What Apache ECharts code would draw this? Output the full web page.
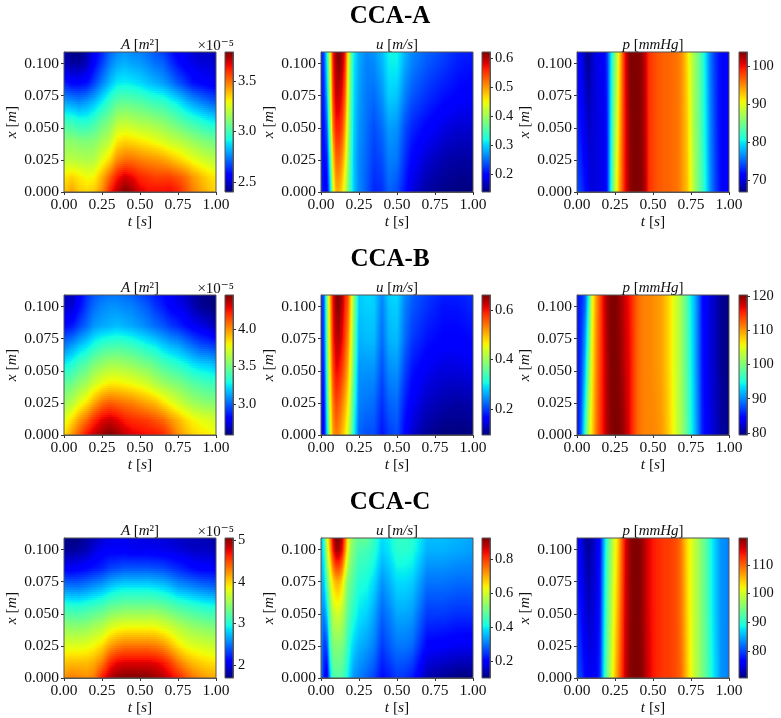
<!DOCTYPE html>
<html>
<head>
<meta charset="utf-8">
<style>html,body{margin:0;padding:0;background:#fff}#chart{width:781px;height:718px}</style>
<script src="https://cdn.jsdelivr.net/npm/echarts@6/dist/echarts.min.js"></script>
</head>
<body>
<div id="chart"></div>
<script>
// Sample positions along time t [s] and along the vessel x [m].
const tArea = [0,.05,.1,.15,.2,.25,.3,.35,.4,.45,.5,.55,.6,.65,.7,.75,.8,.85,.9,.95,1];
const xArea = [0,.012,.025,.04,.055,.07,.085,.1,.109];
const tVel = [0,.02,.04,.06,.08,.1,.12,.14,.16,.18,.2,.22,.25,.3,.35,.4,.45,.5,.55,.6,.7,.8,.9,1];
const xVel = [0,.025,.05,.075,.1,.109];
const tPres = [0,.025,.05,.075,.1,.125,.15,.175,.2,.225,.25,.275,.3,.325,.35,.375,.4,.425,.45,.475,.5,.525,.55,.575,.6,.625,.65,.675,.7,.725,.75,.775,.8,.825,.85,.875,.9,.925,.95,.975,1];
const xPres = [0,.055,.109];

// Cross-section area A, in units of 1e-5 m^2; one row per entry of xArea.
const areaA = [
[3.37,3.43,3.37,3.35,3.37,3.46,3.62,3.72,3.79,3.75,3.68,3.65,3.65,3.65,3.66,3.62,3.55,3.48,3.43,3.39,3.35],
[3.32,3.35,3.32,3.29,3.30,3.40,3.52,3.63,3.69,3.66,3.61,3.59,3.57,3.57,3.57,3.54,3.50,3.44,3.39,3.35,3.32],
[3.20,3.20,3.19,3.18,3.19,3.27,3.35,3.46,3.50,3.50,3.48,3.46,3.45,3.43,3.40,3.36,3.32,3.28,3.25,3.22,3.20],
[3.12,3.12,3.10,3.10,3.11,3.16,3.21,3.32,3.35,3.34,3.32,3.30,3.28,3.25,3.22,3.20,3.17,3.14,3.11,3.09,3.07],
[2.98,2.97,2.94,2.94,2.98,3.05,3.10,3.18,3.20,3.18,3.16,3.15,3.13,3.11,3.08,3.04,3.00,2.97,2.94,2.91,2.89],
[2.80,2.78,2.76,2.79,2.83,2.90,2.98,3.04,3.05,3.04,3.03,3.00,2.98,2.97,2.93,2.89,2.83,2.79,2.75,2.72,2.69],
[2.61,2.57,2.57,2.59,2.66,2.75,2.83,2.89,2.90,2.89,2.87,2.84,2.82,2.79,2.75,2.69,2.64,2.59,2.57,2.55,2.54],
[2.48,2.44,2.44,2.48,2.57,2.66,2.75,2.80,2.82,2.80,2.79,2.76,2.73,2.71,2.65,2.59,2.55,2.53,2.51,2.51,2.50],
[2.46,2.41,2.40,2.46,2.54,2.62,2.71,2.76,2.78,2.76,2.75,2.72,2.69,2.66,2.61,2.55,2.53,2.50,2.48,2.48,2.47]];
const areaB = [
[3.84,3.99,4.12,4.26,4.34,4.41,4.45,4.41,4.34,4.30,4.28,4.26,4.25,4.21,4.13,4.00,3.93,3.87,3.84,3.82,3.78],
[3.74,3.85,3.97,4.08,4.20,4.29,4.33,4.29,4.23,4.20,4.18,4.16,4.12,4.08,4.00,3.93,3.85,3.80,3.76,3.74,3.71],
[3.59,3.65,3.75,3.84,3.95,4.06,4.10,4.08,4.05,4.03,3.99,3.95,3.92,3.84,3.78,3.71,3.65,3.60,3.57,3.55,3.54],
[3.45,3.49,3.56,3.62,3.71,3.78,3.82,3.82,3.80,3.78,3.75,3.71,3.65,3.60,3.56,3.53,3.48,3.44,3.41,3.39,3.37],
[3.26,3.31,3.38,3.44,3.52,3.57,3.61,3.61,3.59,3.57,3.53,3.50,3.46,3.40,3.36,3.32,3.28,3.23,3.20,3.19,3.15],
[3.04,3.10,3.17,3.23,3.30,3.36,3.38,3.39,3.38,3.36,3.32,3.28,3.25,3.19,3.15,3.12,3.06,3.01,2.96,2.94,2.91],
[2.83,2.86,2.94,3.02,3.10,3.13,3.15,3.17,3.15,3.13,3.10,3.06,3.02,2.98,2.93,2.89,2.84,2.79,2.76,2.72,2.68],
[2.74,2.72,2.83,2.94,3.02,3.07,3.09,3.09,3.07,3.06,3.02,2.98,2.92,2.87,2.81,2.78,2.74,2.68,2.63,2.61,2.59],
[2.70,2.68,2.79,2.91,2.98,3.02,3.04,3.04,3.02,3.00,2.96,2.92,2.87,2.83,2.78,2.74,2.70,2.65,2.61,2.59,2.59]];
const areaC = [
[4.24,4.31,4.28,4.24,4.31,4.65,4.90,5.00,5.05,5.05,5.05,5.03,4.98,4.90,4.78,4.65,4.48,4.34,4.24,4.18,4.14],
[4.04,4.08,4.08,4.08,4.14,4.31,4.61,4.75,4.78,4.78,4.78,4.78,4.75,4.68,4.55,4.34,4.18,4.08,4.01,3.97,3.94],
[3.77,3.77,3.77,3.81,3.86,3.97,4.18,4.28,4.34,4.34,4.34,4.34,4.31,4.24,4.11,3.94,3.82,3.77,3.74,3.71,3.67],
[3.47,3.44,3.44,3.47,3.54,3.60,3.74,3.81,3.84,3.84,3.84,3.84,3.84,3.77,3.71,3.60,3.54,3.47,3.44,3.40,3.37],
[3.07,3.03,3.03,3.07,3.12,3.17,3.27,3.30,3.34,3.34,3.34,3.34,3.34,3.30,3.24,3.17,3.12,3.07,3.03,3.00,2.97],
[2.56,2.53,2.53,2.58,2.64,2.70,2.80,2.87,2.90,2.90,2.90,2.90,2.87,2.83,2.77,2.66,2.62,2.58,2.53,2.50,2.46],
[2.09,2.06,2.09,2.13,2.18,2.23,2.33,2.36,2.40,2.40,2.40,2.40,2.38,2.36,2.31,2.25,2.19,2.13,2.09,2.09,2.06],
[1.79,1.76,1.79,1.86,1.96,2.04,2.06,2.06,2.06,2.03,2.03,2.03,2.03,2.01,1.99,1.96,1.93,1.89,1.89,1.89,1.86],
[1.72,1.69,1.72,1.79,1.86,1.94,1.99,2.01,2.01,1.99,1.99,1.96,1.96,1.94,1.93,1.89,1.86,1.86,1.86,1.82,1.82]];

// Flow velocity u [m/s]; one row per entry of xVel.
const velA = [
[.220,.196,.186,.283,.427,.485,.485,.466,.427,.379,.331,.292,.263,.239,.215,.220,.244,.234,.205,.177,.152,.143,.138,.138],
[.210,.201,.210,.331,.466,.524,.524,.504,.461,.398,.336,.292,.263,.244,.225,.234,.259,.254,.220,.196,.172,.157,.152,.152],
[.205,.205,.244,.379,.514,.562,.562,.543,.495,.418,.345,.297,.268,.249,.234,.249,.273,.268,.234,.215,.196,.181,.172,.172],
[.205,.215,.283,.408,.543,.591,.591,.572,.528,.437,.355,.302,.273,.254,.249,.268,.297,.292,.259,.239,.220,.205,.196,.191],
[.205,.230,.312,.427,.557,.606,.615,.601,.553,.451,.365,.307,.278,.259,.263,.283,.312,.312,.278,.259,.239,.225,.210,.205],
[.205,.234,.321,.437,.562,.610,.620,.606,.562,.456,.369,.312,.278,.263,.268,.287,.316,.316,.283,.263,.244,.230,.215,.210]];
const velB = [
[.181,.158,.288,.423,.513,.536,.525,.502,.474,.434,.378,.305,.220,.209,.209,.175,.198,.209,.164,.135,.107,.096,.096,.096],
[.181,.169,.316,.446,.536,.570,.558,.536,.508,.468,.406,.327,.237,.231,.226,.192,.220,.226,.181,.158,.130,.119,.113,.119],
[.181,.186,.339,.468,.564,.604,.598,.575,.542,.502,.434,.350,.248,.248,.248,.209,.243,.248,.203,.175,.152,.141,.141,.147],
[.181,.203,.361,.485,.587,.632,.632,.609,.570,.530,.457,.372,.265,.271,.271,.226,.265,.271,.226,.198,.175,.164,.164,.169],
[.181,.214,.372,.496,.598,.649,.654,.632,.587,.553,.474,.384,.276,.282,.282,.237,.276,.282,.237,.214,.192,.175,.175,.186],
[.181,.220,.378,.502,.604,.654,.660,.637,.592,.558,.480,.389,.276,.288,.282,.243,.282,.288,.243,.220,.198,.181,.181,.192]];
const velC = [
[.314,.215,.166,.347,.462,.470,.470,.462,.437,.396,.355,.322,.306,.281,.256,.207,.223,.248,.240,.223,.133,.116,.100,.100],
[.322,.248,.265,.446,.512,.520,.520,.512,.479,.437,.396,.372,.347,.330,.306,.248,.273,.298,.298,.289,.199,.191,.182,.182],
[.330,.306,.372,.495,.569,.594,.594,.569,.528,.479,.446,.421,.389,.372,.339,.282,.306,.339,.339,.331,.249,.249,.240,.240],
[.347,.363,.470,.577,.660,.693,.693,.660,.577,.512,.487,.462,.421,.412,.380,.322,.347,.380,.380,.371,.297,.297,.289,.289],
[.347,.413,.577,.693,.824,.898,.898,.849,.734,.610,.536,.503,.463,.454,.430,.372,.389,.430,.430,.421,.347,.347,.339,.331],
[.347,.429,.610,.717,.857,.923,.923,.882,.758,.635,.553,.512,.487,.487,.438,.380,.397,.438,.438,.430,.356,.356,.347,.339]];

// Blood pressure p [mmHg]; one row per entry of xPres.
const presA = [
[74.2,73.4,72.0,70.5,69.8,69.8,70.1,70.5,72.0,80.8,88.2,93.4,97.8,100.7,103.0,103.7,103.7,103.3,102.2,98.5,97.8,97.2,96.8,96.6,96.5,96.3,96.0,95.3,94.2,93.0,90.0,86.7,84.5,82.7,80.1,76.8,74.5,72.7,71.6,71.2,70.9],
[72.3,71.6,70.1,69.0,69.4,69.8,70.1,70.5,72.3,80.1,86.7,92.3,97.4,100.7,103.3,103.7,103.7,103.0,101.9,98.5,97.8,97.2,96.8,96.6,96.5,96.3,96.0,95.3,94.2,92.6,89.3,86.4,84.5,82.3,79.7,76.4,74.2,72.3,71.6,71.2,70.9],
[71.2,70.5,68.6,67.2,69.0,70.1,70.5,70.9,73.1,79.7,85.3,91.2,97.1,101.1,103.7,103.7,103.7,103.0,101.5,98.5,97.8,97.2,96.8,96.6,96.5,96.3,96.0,95.3,94.2,91.9,88.9,86.4,84.5,82.3,79.3,76.0,73.8,72.3,71.6,71.2,71.2]];
const presB = [
[84.3,88.4,95.8,102.3,107.2,111.3,114.2,116.6,118.7,119.9,120.3,120.3,119.5,118.3,116.2,113.8,112.1,111.3,110.9,110.9,110.9,110.5,110.1,109.3,108.0,106.4,104.3,102.3,100.7,98.2,94.9,92.1,88.8,85.9,84.3,83.1,82.3,81.4,80.6,80.2,79.8],
[84.7,86.8,91.7,98.2,106.0,110.5,113.8,116.6,118.7,120.3,120.3,119.9,118.7,117.4,116.2,113.8,112.1,111.3,110.9,110.9,110.5,110.1,109.7,108.8,107.6,106.0,103.9,102.3,100.3,97.8,94.5,91.7,88.4,85.5,83.9,82.7,81.9,81.0,80.2,79.8,79.4],
[85.1,85.9,88.0,93.7,104.8,109.7,113.3,117.0,119.1,120.3,120.3,119.5,118.3,117.0,115.8,113.8,112.1,111.3,110.9,110.9,110.5,110.1,109.7,108.8,107.6,106.0,103.9,102.3,100.3,97.8,94.1,91.7,88.4,85.1,83.9,82.7,81.9,81.0,80.2,79.8,79.4]];
const presC = [
[80.4,79.4,77.0,76.0,75.5,76.0,78.9,88.2,94.0,99.4,104.8,109.2,113.5,117.0,118.9,119.4,119.4,118.9,117.4,115.5,114.0,113.1,112.6,112.1,112.1,111.6,111.1,110.1,108.2,104.8,101.8,98.9,97.0,95.0,93.0,90.1,87.7,85.7,83.8,83.3,82.8],
[78.4,77.0,74.5,73.5,74.0,75.0,77.9,86.7,92.6,97.9,102.8,107.2,112.6,116.5,118.4,119.4,119.4,118.4,117.0,115.0,114.0,113.1,112.6,112.1,112.1,111.6,111.1,109.6,107.7,104.3,101.3,98.9,97.0,95.0,93.0,89.6,87.2,85.2,83.8,83.3,82.8],
[77.0,75.0,72.6,71.6,72.6,74.5,77.0,85.2,91.1,96.5,100.9,105.7,111.6,116.0,118.4,119.4,119.4,118.4,117.0,115.0,114.0,113.1,112.6,112.1,112.1,111.6,111.1,109.6,107.2,103.8,101.3,98.9,97.0,95.0,93.0,89.6,87.2,85.2,83.8,83.3,82.8]];

// Tick labels and colour ranges.
const tTicks = [0,.25,.5,.75,1];
const xTicks = [0,.025,.05,.075,.1];
const rowTitles = ['CCA-A','CCA-B','CCA-C'];
const fieldTitles = ['{i|A} [{i|m}²]','{i|u} [{i|m/s}]','{i|p} [{i|mmHg}]'];
const colorRanges = [
  [[2.40,3.79],[.138,.62],[66.8,103.7]],
  [[2.59,4.45],[.096,.66],[79.4,120.3]],
  [[1.69,5.05],[.10,.923],[70.6,119.4]]];
const colorTicks = [
  [[2.5,3,3.5],[.2,.3,.4,.5,.6],[70,80,90,100]],
  [[3,3.5,4],[.2,.4,.6],[80,90,100,110,120]],
  [[2,3,4,5],[.2,.4,.6,.8],[80,90,100,110]]];
const colorDigits = [[1,1,0],[1,1,0],[0,1,0]];
const fieldGrids = [[areaA,velA,presA],[areaB,velB,presB],[areaC,velC,presC]];
const fieldAxes = [[tArea,xArea],[tVel,xVel],[tPres,xPres]];

// Page layout in pixels.
const colLeft = [64,321,577];
const barLeft = [225,482,739];
const rowTop = [52,295,538];
const plotW = 152, plotH = 140, barW = 8;

const serif = '"Liberation Serif","DejaVu Serif",serif';
const ink = '#111';
const frame = '#555';

// Piecewise-linear jet colour map.
function ramp(pts, l) {
  for (let k = 1; k < pts.length; k++) {
    if (l <= pts[k][0]) {
      const f = (l - pts[k-1][0]) / (pts[k][0] - pts[k-1][0]);
      return pts[k-1][1] + f * (pts[k][1] - pts[k-1][1]);
    }
  }
  return pts[pts.length-1][1];
}
const jetR = [[0,0],[.35,0],[.66,1],[.89,1],[1,.5]];
const jetG = [[0,0],[.125,0],[.375,1],[.64,1],[.91,0],[1,0]];
const jetB = [[0,.5],[.11,1],[.34,1],[.65,0],[1,0]];
const jetTable = [];
for (let k = 0; k <= 512; k++) {
  const l = k / 512;
  jetTable.push('rgb(' + Math.round(255*ramp(jetR,l)) + ',' + Math.round(255*ramp(jetG,l)) + ',' + Math.round(255*ramp(jetB,l)) + ')');
}
function jet(l) { return jetTable[Math.round(Math.max(0, Math.min(1, l)) * 512)]; }

// Gouraud-style shading of one grid cell: horizontal gradients in thin strips.
function shadeCell(api, ts, xs, grid, i, j, lo, hi) {
  const a = api.coord([ts[i], xs[j]]);
  const b = api.coord([ts[i+1], xs[j+1]]);
  const left = Math.round(a[0]), right = Math.round(b[0]);
  const bottom = Math.round(a[1]), top = Math.round(b[1]);
  const children = [];
  const v00 = grid[j][i], v10 = grid[j][i+1], v01 = grid[j+1][i], v11 = grid[j+1][i+1];
  for (let y = top; y < bottom; y += 2) {
    const h = Math.min(2, bottom - y);
    const f = (bottom - (y + h / 2)) / (bottom - top);
    const vL = v00 + (v01 - v00) * f, vR = v10 + (v11 - v10) * f;
    const stops = [0, .25, .5, .75, 1].map(o => ({
      offset: o,
      color: jet((vL + (vR - vL) * o - lo) / (hi - lo))
    }));
    children.push({
      type: 'rect', silent: true,
      shape: { x: left, y: y, width: right - left, height: h },
      style: { fill: new echarts.graphic.LinearGradient(0, 0, 1, 0, stops) }
    });
  }
  return { type: 'group', children: children };
}

function unitName(text) {
  return {
    name: text,
    nameLocation: 'middle',
    nameTextStyle: {
      fontFamily: serif, fontSize: 15.5, color: ink,
      rich: { i: { fontFamily: serif, fontSize: 15.5, fontStyle: 'italic', color: ink } }
    }
  };
}

const grids = [], xAxes = [], yAxes = [], series = [], titles = [];
rowTitles.forEach((label, r) => {
  titles.push({
    text: label, left: 390, top: rowTop[r] - 48, textAlign: 'center', padding: 0,
    textStyle: { fontFamily: serif, fontWeight: 'bold', fontSize: 25, color: '#000' }
  });
  [0, 1, 2].forEach(c => {
    const ts = fieldAxes[c][0], xs = fieldAxes[c][1], values = fieldGrids[r][c];
    const lo = colorRanges[r][c][0], hi = colorRanges[r][c][1];
    const nt = ts.length;

    // Field plot
    let idx = grids.length;
    grids.push({ left: colLeft[c], top: rowTop[r], width: plotW, height: plotH, show: true, borderColor: frame, borderWidth: 1, z: 5 });
    xAxes.push(Object.assign({
      type: 'value', gridIndex: idx, min: 0, max: 1, nameGap: 21,
      axisLine: { onZero: false, lineStyle: { color: frame } },
      axisTick: { show: true, length: 3, customValues: tTicks, lineStyle: { color: '#333' } },
      axisLabel: { color: ink, fontFamily: serif, fontSize: 15.5, margin: 5, customValues: tTicks, formatter: v => v.toFixed(2) },
      splitLine: { show: false }
    }, unitName('{i|t} [{i|s}]')));
    yAxes.push(Object.assign({
      type: 'value', gridIndex: idx, min: 0, max: .109, nameGap: 42,
      axisLine: { onZero: false, lineStyle: { color: frame } },
      axisTick: { show: true, length: 3, customValues: xTicks, lineStyle: { color: '#333' } },
      axisLabel: { color: ink, fontFamily: serif, fontSize: 15.5, margin: 5, customValues: xTicks, formatter: v => v.toFixed(3) },
      splitLine: { show: false }
    }, unitName('{i|x} [{i|m}]')));
    const data = [];
    xs.forEach((x, j) => ts.forEach((t, i) => data.push([t, x, values[j][i]])));
    series.push({
      type: 'custom', coordinateSystem: 'cartesian2d', xAxisIndex: idx, yAxisIndex: idx,
      data: data, encode: { x: 0, y: 1 }, silent: true, animation: false, clip: true, progressive: 0, z: 1,
      renderItem: function (params, api) {
        const i = params.dataIndex % nt, j = Math.floor(params.dataIndex / nt);
        if (i === nt - 1 || j === xs.length - 1) return null;
        return shadeCell(api, ts, xs, values, i, j, lo, hi);
      }
    });
    titles.push({
      text: fieldTitles[c], left: colLeft[c] + plotW / 2, top: rowTop[r] - 14, textAlign: 'center', padding: 0,
      textStyle: {
        fontFamily: serif, fontSize: 15, fontWeight: 'normal', color: ink,
        rich: { i: { fontFamily: serif, fontSize: 15, fontStyle: 'italic', color: ink } }
      }
    });

    // Colour bar
    idx = grids.length;
    const digits = colorDigits[r][c];
    grids.push({ left: barLeft[c], top: rowTop[r], width: barW, height: plotH, show: true, borderColor: frame, borderWidth: 1, z: 5 });
    xAxes.push({ type: 'value', gridIndex: idx, min: 0, max: 1, show: false });
    yAxes.push({
      type: 'value', gridIndex: idx, position: 'right', min: lo, max: hi,
      axisLine: { show: true, onZero: false, lineStyle: { color: frame } },
      axisTick: { show: true, length: 3, customValues: colorTicks[r][c], lineStyle: { color: '#333' } },
      axisLabel: { color: ink, fontFamily: serif, fontSize: 14.5, margin: 5, customValues: colorTicks[r][c], formatter: v => v.toFixed(digits) },
      splitLine: { show: false }
    });
    series.push({
      type: 'custom', coordinateSystem: 'cartesian2d', xAxisIndex: idx, yAxisIndex: idx,
      data: [[0, lo], [1, hi]], encode: { x: 0, y: 1 }, silent: true, animation: false, z: 1,
      renderItem: function (params, api) {
        if (params.dataIndex) return null;
        const a = api.coord([0, lo]), b = api.coord([1, hi]);
        const stops = [];
        for (let k = 0; k <= 40; k++) stops.push({ offset: k / 40, color: jet(1 - k / 40) });
        return {
          type: 'rect', silent: true,
          shape: { x: a[0], y: b[1], width: b[0] - a[0], height: a[1] - b[1] },
          style: { fill: new echarts.graphic.LinearGradient(0, 0, 0, 1, stops) }
        };
      }
    });
  });
  // Scale factor of the area colour bar
  titles.push({
    text: '×10⁻⁵', right: 781 - 234, top: rowTop[r] - 13, padding: 0,
    textStyle: { fontFamily: serif, fontSize: 15, fontWeight: 'normal', color: ink }
  });
});

const chart = echarts.init(document.getElementById('chart'), null, { renderer: 'canvas' });
chart.setOption({
  animation: false,
  backgroundColor: '#fff',
  title: titles,
  grid: grids,
  xAxis: xAxes,
  yAxis: yAxes,
  series: series
});
</script>
</body>
</html>
